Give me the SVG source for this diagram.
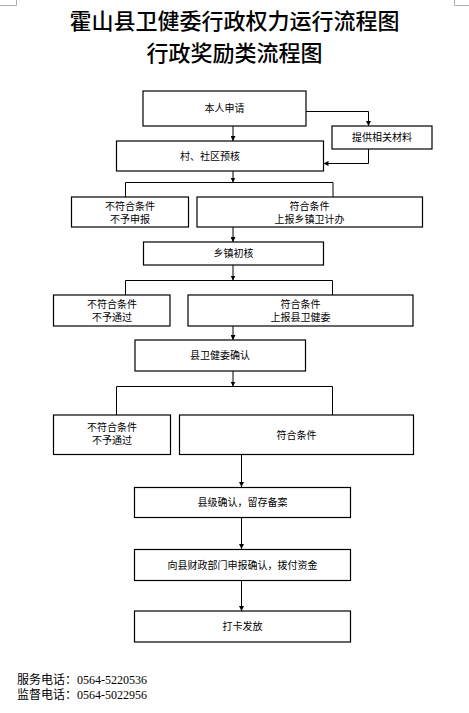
<svg xmlns="http://www.w3.org/2000/svg" width="469" height="713" viewBox="0 0 469 713">
<style>
.box{fill:#fff;stroke:#000;stroke-width:1.2}
.t{font-family:"Liberation Sans","Noto Sans CJK SC",sans-serif;font-size:10px;fill:#000;text-anchor:middle;dominant-baseline:central}
.title{font-family:"Noto Sans CJK SC",sans-serif;font-size:22px;fill:#000;text-anchor:middle;font-weight:500}
.ft{font-family:"Liberation Serif","Noto Sans CJK SC",serif;font-size:12px;fill:#000}
.ln{fill:none;stroke:#000;stroke-width:1}
.ar{fill:none;stroke:#000;stroke-width:1;marker-end:url(#ah)}
.mk{fill:none;stroke:#b0b0b0;stroke-width:1}
</style>
<defs>
<marker id="ah" viewBox="0 0 10 10" refX="10" refY="5" markerWidth="5" markerHeight="5" markerUnits="userSpaceOnUse" orient="auto">
<path d="M0,0 L10,5 L0,10 z" fill="#000"/>
</marker>
</defs>
<rect width="469" height="713" fill="#fff"/>
<g id="cornermarks">
<path class="mk" d="M16.5,0 V5.5 H0"/>
<path class="mk" d="M454.5,0 V5.5 H469"/>
</g>
<g id="title">
<text class="title" x="234.5" y="29">霍山县卫健委行政权力运行流程图</text>
<text class="title" x="234.5" y="61">行政奖励类流程图</text>
</g>
<g id="connectors">
<path class="ar" d="M306,111.5 H368.5 V126"/>
<path class="ar" d="M233,126 V141"/>
<path class="ar" d="M368.5,149 V163.5 H323.5"/>
<path class="ar" d="M233,171 V182.5"/>
<path class="ln" d="M125.5,197 V182.5 H333 V197"/>
<path class="ar" d="M233,227 V242"/>
<path class="ar" d="M233,265 V280.5"/>
<path class="ln" d="M125.5,295 V280.5 H332.5 V295"/>
<path class="ar" d="M233,326 V340"/>
<path class="ar" d="M233,371 V386.5"/>
<path class="ln" d="M116.5,415 V386.5 H332.5 V415"/>
<path class="ar" d="M241.5,454 V487"/>
<path class="ar" d="M241.5,518 V549"/>
<path class="ar" d="M241.5,581 V611"/>
</g>
<g id="n1"><rect class="box" x="143" y="91" width="163" height="35"/><text class="t" x="224.5" y="108.5">本人申请</text></g>
<g id="n2"><rect class="box" x="332" y="126" width="100" height="23"/><text class="t" x="382" y="137.5">提供相关材料</text></g>
<g id="n3"><rect class="box" x="116.5" y="141" width="207" height="30"/><text class="t" x="210" y="156">村、社区预核</text></g>
<g id="n4"><rect class="box" x="71.5" y="197" width="117" height="30"/><text class="t" x="130" y="206">不符合条件</text><text class="t" x="130" y="219">不予申报</text></g>
<g id="n5"><rect class="box" x="197" y="197" width="225.5" height="30"/><text class="t" x="309.5" y="206">符合条件</text><text class="t" x="309.5" y="219">上报乡镇卫计办</text></g>
<g id="n6"><rect class="box" x="143.5" y="242" width="180" height="23"/><text class="t" x="233.5" y="253.5">乡镇初核</text></g>
<g id="n7"><rect class="box" x="53.5" y="295" width="116.5" height="31"/><text class="t" x="112" y="304">不符合条件</text><text class="t" x="112" y="317">不予通过</text></g>
<g id="n8"><rect class="box" x="188" y="295" width="225" height="31"/><text class="t" x="300.5" y="304">符合条件</text><text class="t" x="300.5" y="317">上报县卫健委</text></g>
<g id="n9"><rect class="box" x="135" y="340" width="170.5" height="31"/><text class="t" x="220" y="355.5">县卫健委确认</text></g>
<g id="n10"><rect class="box" x="53.5" y="415" width="117" height="39.5"/><text class="t" x="112" y="427.5">不符合条件</text><text class="t" x="112" y="440.5">不予通过</text></g>
<g id="n11"><rect class="box" x="179.5" y="415" width="234" height="39.5"/><text class="t" x="296.5" y="435">符合条件</text></g>
<g id="n12"><rect class="box" x="134.5" y="487.5" width="216" height="30"/><text class="t" x="242.5" y="502.5">县级确认，留存备案</text></g>
<g id="n13"><rect class="box" x="134.5" y="549.5" width="216" height="31"/><text class="t" x="242.5" y="565">向县财政部门申报确认，拨付资金</text></g>
<g id="n14"><rect class="box" x="134.5" y="611" width="216" height="31"/><text class="t" x="242.5" y="626.5">打卡发放</text></g>
<g id="footer">
<text class="ft" x="17" y="684">服务电话：0564-5220536</text>
<text class="ft" x="17" y="699">监督电话：0564-5022956</text>
</g>
</svg>
